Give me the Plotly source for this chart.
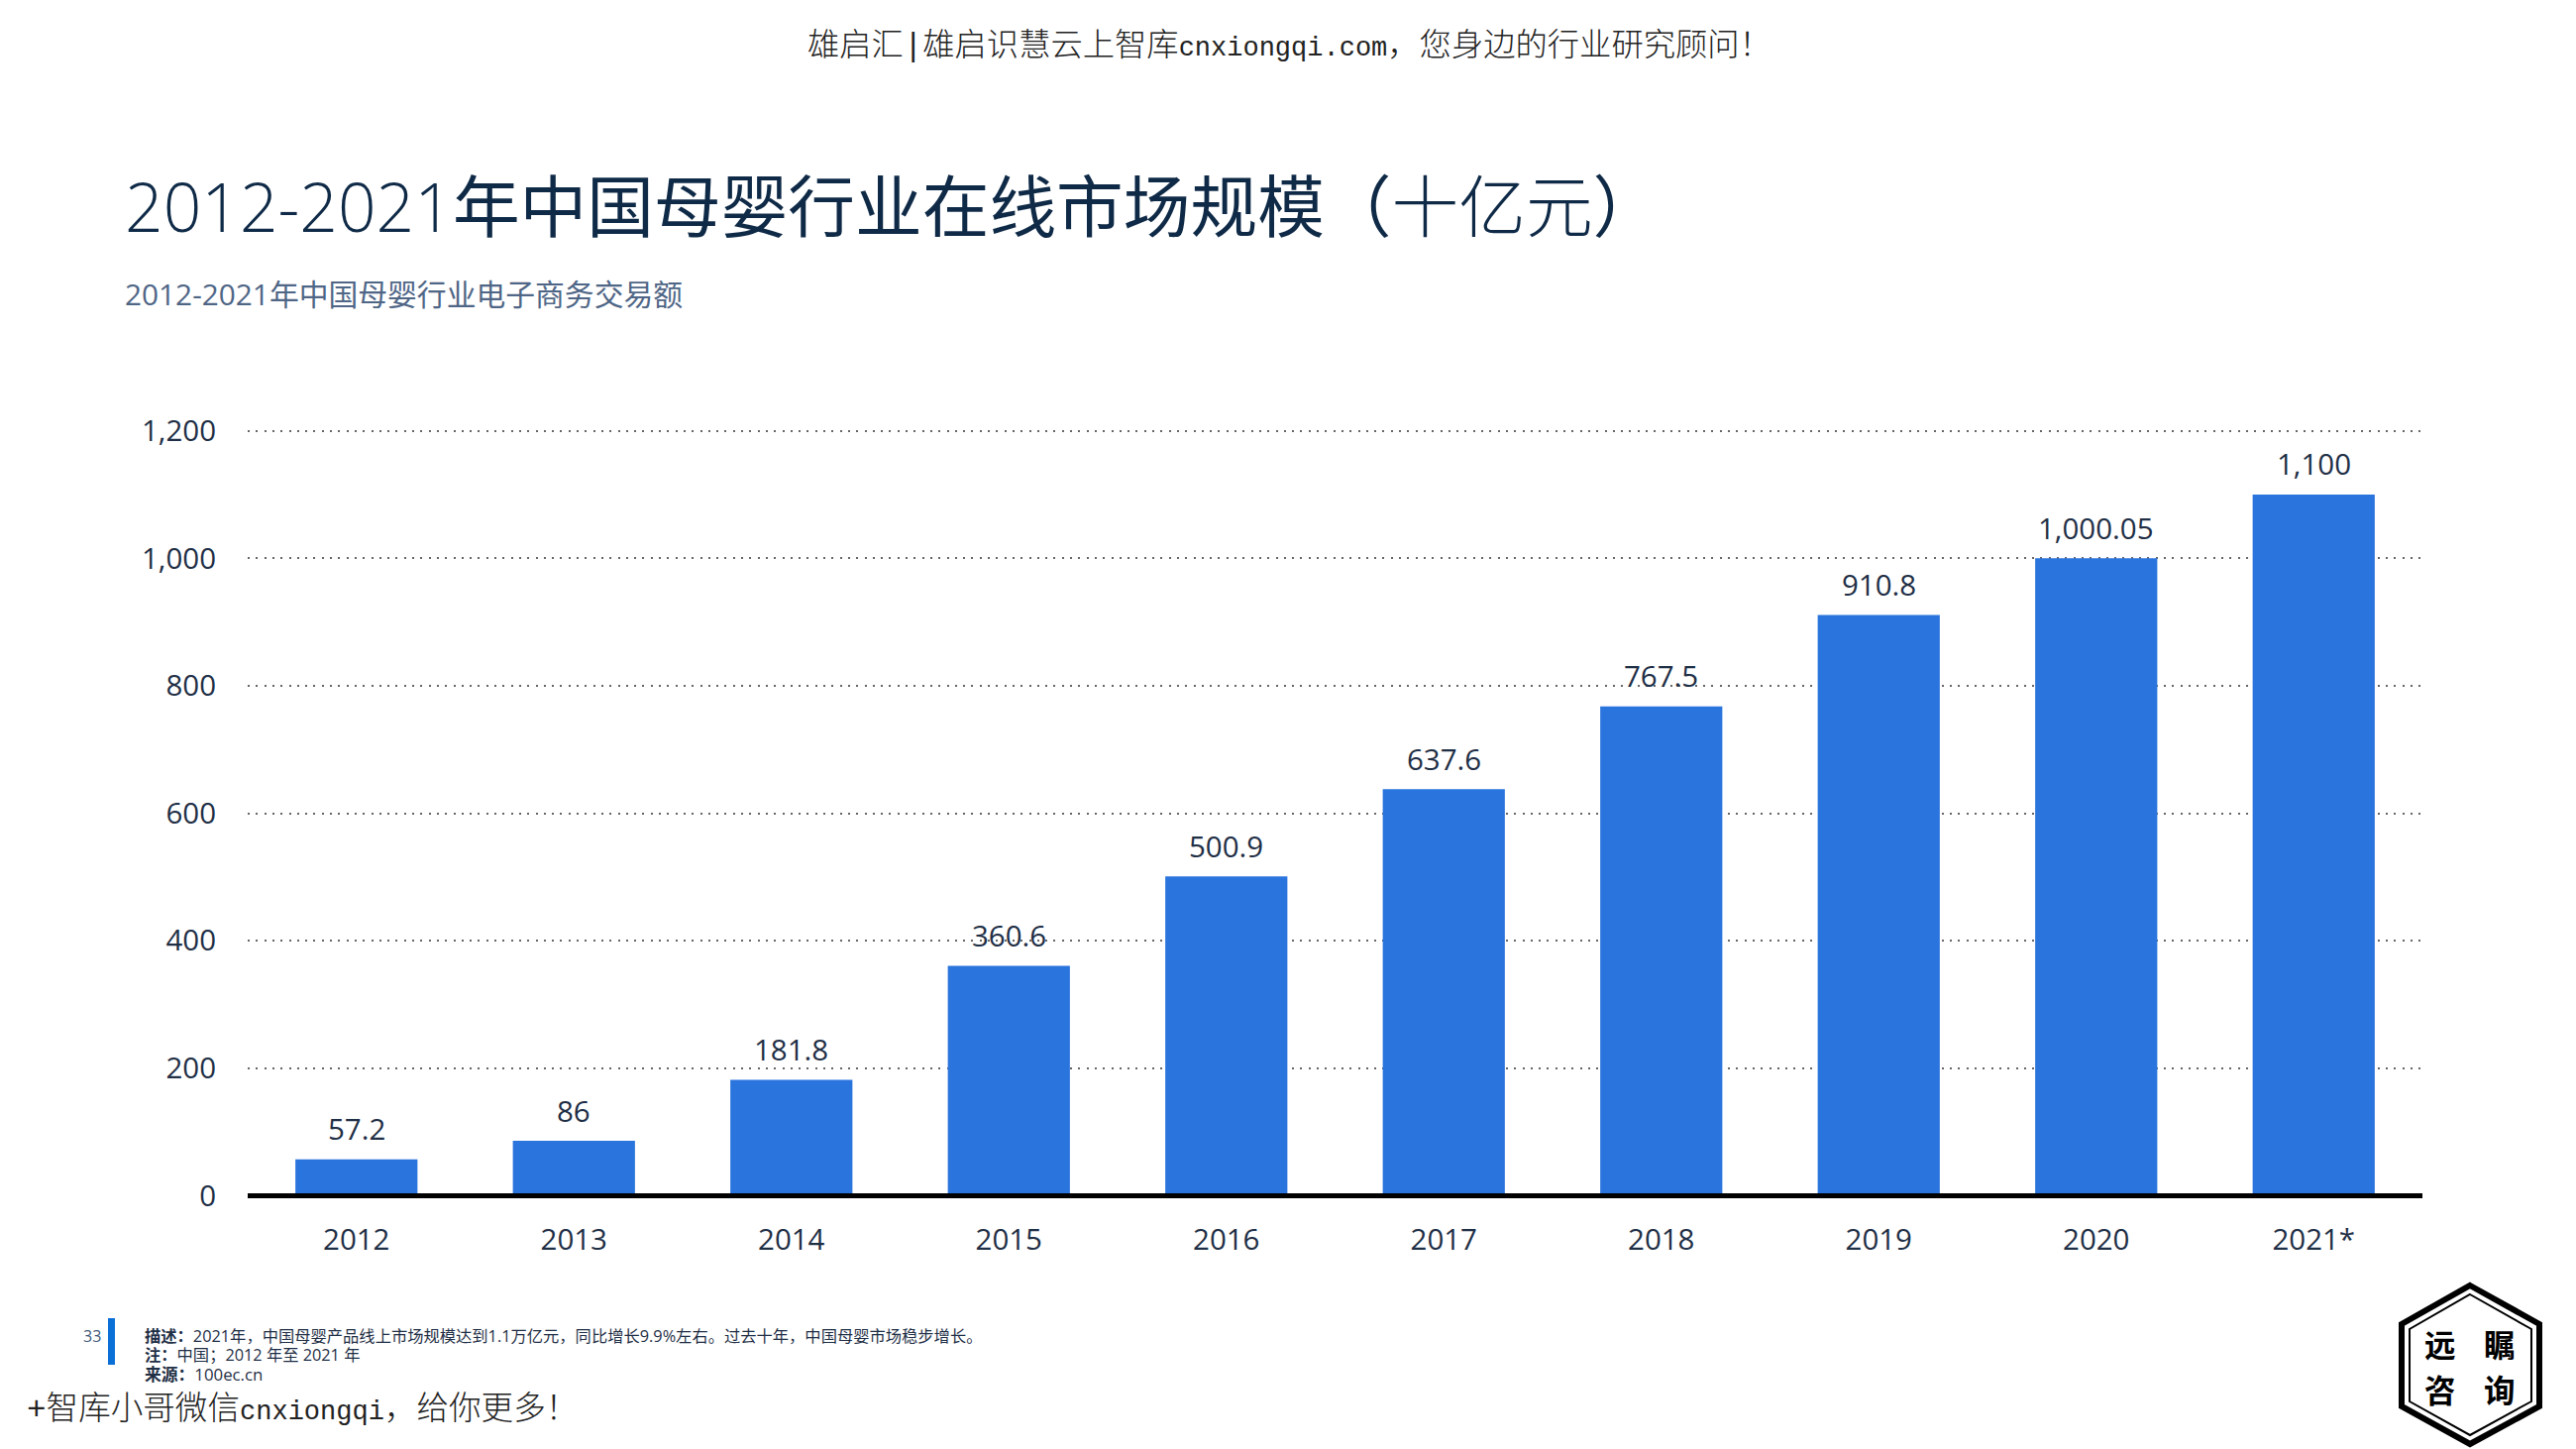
import plotly.graph_objects as go

years = ['2012', '2013', '2014', '2015', '2016', '2017', '2018', '2019', '2020', '2021*']
values = [57.2, 86, 181.8, 360.6, 500.9, 637.6, 767.5, 910.8, 1000.05, 1100]
value_labels = ['57.2', '86', '181.8', '360.6', '500.9', '637.6', '767.5', '910.8', '1,000.05', '1,100']
y_ticks = [0, 200, 400, 600, 800, 1000, 1200]

W, H = 2600, 1462
L, R, T, B = 250, 155, 432, 253
CJK = 'Noto Sans CJK SC'
SANS = 'Open Sans, Noto Sans CJK SC'
MONO = 'Liberation Mono, Noto Sans CJK SC'
INK = '#1f2f46'


def px(x):
    return (x - L) / (W - L - R)


def py(y):
    return (H - B - y) / (H - T - B)


def label(x, y, text, size, color=INK, family=SANS, xanchor='left', weight=None):
    fig.add_annotation(x=px(x), y=py(y), xref='paper', yref='paper', text=text, showarrow=False,
                       xanchor=xanchor, yanchor='middle', borderpad=0,
                       font=dict(size=size, color=color, family=family, weight=weight))


fig = go.Figure(go.Bar(x=years, y=values, marker=dict(color='#2a74dd', line_width=0), width=0.5615))

fig.update_layout(width=W, height=H, margin=dict(l=L, r=R, t=T, b=B), paper_bgcolor='white',
                  plot_bgcolor='white', showlegend=False, font=dict(family=SANS, color=INK))
fig.update_xaxes(type='category', range=[-0.5, len(years) - 0.5], showgrid=False, showline=False,
                 zeroline=False, ticks='', tickfont=dict(size=29.5, color=INK), ticklabelstandoff=21)
# a little headroom above 1200, plotly drops a gridline that lands on the plot edge
fig.update_yaxes(range=[-4, 1204], tickvals=y_ticks, tickformat=',', showline=False, zeroline=False,
                 gridcolor='#666666', griddash='2px,6.3px', gridwidth=2, ticks='',
                 tickfont=dict(size=29.5, color=INK), ticklabelstandoff=31)

# baseline sits over the bars
fig.add_shape(type='line', xref='paper', yref='y', x0=0, x1=1, y0=0, y1=0, layer='above',
              line=dict(color='black', width=5))

# value labels stand further off the bars than textposition='outside' allows
for i, (value, text) in enumerate(zip(values, value_labels)):
    fig.add_annotation(x=i, y=value, text=text, showarrow=False, yanchor='middle', yshift=31,
                       font=dict(size=29.5, color=INK, family=SANS))

# header
label(1301, 47, '雄启汇|雄启识慧云上智库<span style="font-size:27px">cnxiongqi.com</span>，您身边的行业研究顾问！',
      32.3, color='#222222', family=MONO, xanchor='center', weight=300)
label(125, 207.5, '<span style="font-weight:300">2012-2021</span>年中国母婴行业在线市场规模（<span style="font-weight:300">十亿元</span>）',
      67.7, color='#0f2a47')
label(125, 296.5, '2012-2021年中国母婴行业电子商务交易额', 29.8, color='#4f6686')

# footer
label(103, 1348, '33', 16, color='#3f5a7a', xanchor='right')
fig.add_shape(type='rect', xref='paper', yref='paper', x0=px(109), x1=px(116), y0=py(1330), y1=py(1377),
              fillcolor='#0a6fd6', line_width=0)
label(145, 1348, '<b>描述：</b>2021年，中国母婴产品线上市场规模达到1.1万亿元，同比增长9.9%左右。过去十年，中国母婴市场稳步增长。', 16.3)
label(145, 1367, '<b>注：</b>中国；2012 年至 2021 年', 16.3)
label(145, 1386, '<b>来源：</b>100ec.cn', 16.8)
label(26, 1422, '+智库小哥微信<span style="font-size:27px">cnxiongqi</span>，给你更多！', 32.6, color='#222222', family=MONO, weight=300)

# logo
hex_outer = [(2493, 1297), (2563, 1336), (2563, 1419), (2493, 1457), (2424, 1419), (2424, 1336)]
hex_inner = [(2493, 1306), (2555, 1341), (2555, 1414), (2493, 1448), (2432, 1414), (2432, 1341)]
for pts, lw in [(hex_outer, 6), (hex_inner, 2)]:
    fig.add_shape(type='path', xref='paper', yref='paper',
                  path='M ' + ' L '.join(f'{px(a):.5f},{py(b):.5f}' for a, b in pts) + ' Z',
                  line=dict(color='black', width=lw), fillcolor='rgba(0,0,0,0)')
for x, y, ch in [(2463, 1355, '远'), (2523, 1355, '瞩'), (2463, 1401, '咨'), (2523, 1401, '询')]:
    label(x, y, ch, 31.5, color='black', family=CJK, xanchor='center', weight=700)

fig.write_html('out.html', config=dict(displayModeBar=False), post_script="document.body.style.margin='0';")
